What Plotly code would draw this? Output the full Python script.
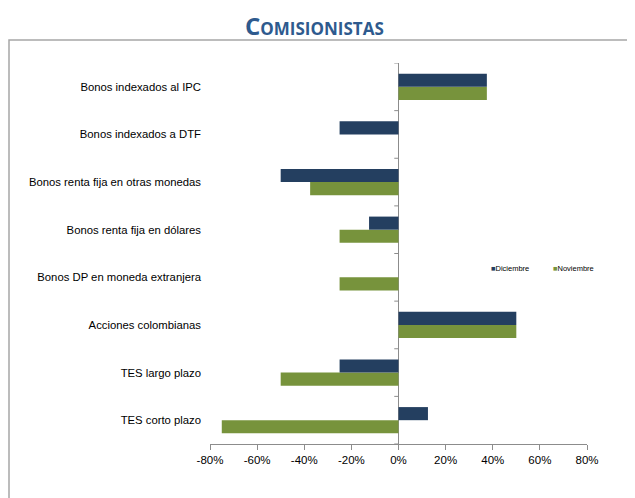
import plotly.graph_objects as go

# ── Data ─────────────────────────────────────────────────────────────
categories = [
    "Bonos indexados al IPC",
    "Bonos indexados a DTF",
    "Bonos renta fija en otras monedas",
    "Bonos renta fija en dólares",
    "Bonos DP en moneda extranjera",
    "Acciones colombianas",
    "TES largo plazo",
    "TES corto plazo",
]
diciembre = [0.375, -0.25, -0.50, -0.125, 0.0, 0.50, -0.25, 0.125]
noviembre = [0.375, 0.0, -0.375, -0.25, -0.25, 0.50, -0.50, -0.75]
x_ticks = [-0.8, -0.6, -0.4, -0.2, 0.0, 0.2, 0.4, 0.6, 0.8]
x_tick_labels = ["-80%", "-60%", "-40%", "-20%", "0%", "20%", "40%", "60%", "80%"]

DIC_COLOR = "#243F60"
NOV_COLOR = "#77933C"
AXIS_GRAY = "#8C8C8C"
FONT = "Liberation Sans, Arial, sans-serif"

# page body adds an 8px offset, so the layout is computed in screen pixels
OFF = 8
W, H = 635, 498
L, R, T, B = 202, 56, 55, 62
PW, PH = W - L - R, H - T - B


def px_x(p):
    return (p - OFF - L) / PW


def px_y(p):
    return (H - B - (p - OFF)) / PH


fig = go.Figure()

# Noviembre first so Diciembre sits on top of each group
fig.add_trace(go.Bar(
    y=categories, x=noviembre, orientation="h", name="Noviembre",
    marker=dict(color=NOV_COLOR, line=dict(width=0)),
))
fig.add_trace(go.Bar(
    y=categories, x=diciembre, orientation="h", name="Diciembre",
    marker=dict(color=DIC_COLOR, line=dict(width=0)),
))

# small ticks on the zero line between categories
n = len(categories)
shapes = []
for i in range(n + 1):
    shapes.append(dict(
        type="line", xref="x", yref="y",
        x0=-0.018, x1=0, y0=i - 0.5, y1=i - 0.5,
        line=dict(color=AXIS_GRAY, width=1),
    ))
# outer frame
shapes.append(dict(
    type="rect", xref="paper", yref="paper",
    x0=px_x(9), x1=px_x(632), y0=px_y(520), y1=px_y(40),
    line=dict(color="#A6A6A6", width=1.5), layer="below",
))

# legend drawn as text: small square swatch right next to the label
legend_notes = []
for name, color, xpos in [("Diciembre", DIC_COLOR, 489), ("Noviembre", NOV_COLOR, 551)]:
    legend_notes.append(dict(
        text=f"<span style='color:{color}'>■</span>{name}",
        xref="paper", yref="paper", x=px_x(xpos), y=px_y(268),
        xanchor="left", yanchor="middle", showarrow=False,
        font=dict(family=FONT, size=7.5, color="#000000"),
    ))

fig.update_layout(
    width=W, height=H,
    margin=dict(l=L, r=R, t=T, b=B),
    paper_bgcolor="white", plot_bgcolor="white",
    barmode="group", bargap=0.45, bargroupgap=0,
    font=dict(family=FONT, size=11.3, color="#000000"),
    shapes=shapes,
    showlegend=False,
    annotations=[dict(
        text="<b>Comisionistas</b>", xref="paper", yref="paper",
        x=px_x(314), y=px_y(25), xanchor="center", yanchor="middle",
        showarrow=False,
        font=dict(family="Open Sans, Lato, sans-serif", size=24, color="#2E5A8E",
                  variant="small-caps"),
    )] + legend_notes,
)
fig.update_xaxes(
    range=[-0.8, 0.8], tickvals=x_ticks, ticktext=x_tick_labels,
    showgrid=False, zeroline=True, zerolinecolor=AXIS_GRAY, zerolinewidth=1,
    showline=True, linecolor=AXIS_GRAY, linewidth=1,
    ticks="outside", ticklen=5, tickcolor=AXIS_GRAY,
    tickfont=dict(size=11.5), automargin=False,
)
fig.update_yaxes(
    categoryorder="array", categoryarray=categories[::-1],
    range=[-0.5, n - 0.5],
    showgrid=False, showline=False, ticks="",
    tickfont=dict(size=11.3), ticklabelstandoff=8, automargin=False,
)

fig.write_html("out.html")
